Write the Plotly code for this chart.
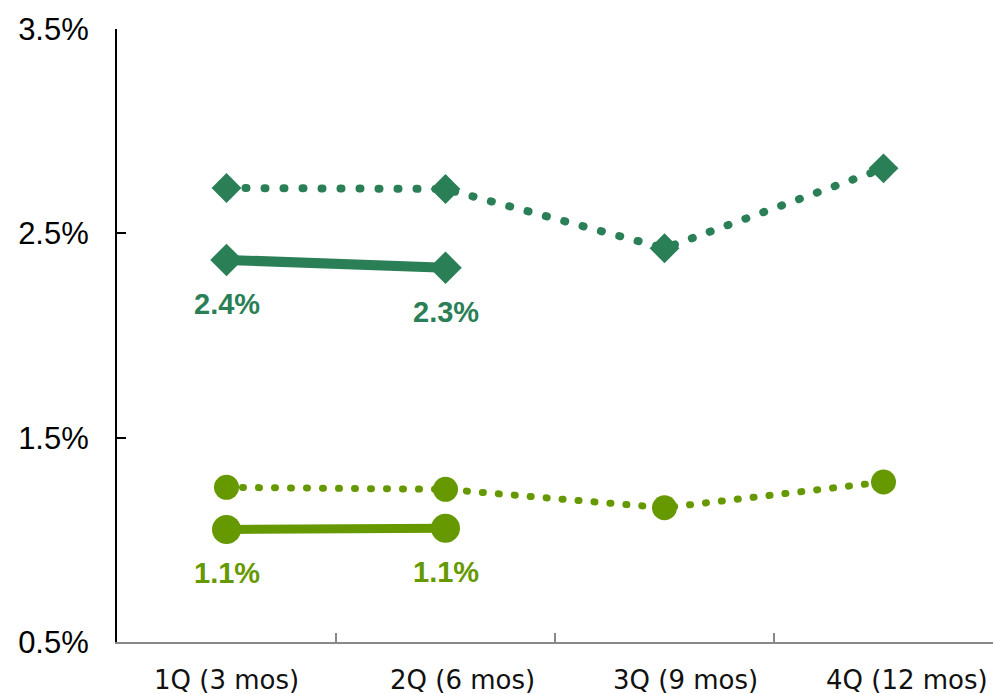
import plotly.graph_objects as go

# Quarter categories on the x axis
quarters = ["1Q (3 mos)", "2Q (6 mos)", "3Q (9 mos)", "4Q (12 mos)"]

# Dark green series (diamonds): full-year dotted line and year-to-date solid line
dark_dotted = [2.722, 2.717, 2.427, 2.818]
dark_solid = [2.37, 2.332]

# Light green series (circles): full-year dotted line and year-to-date solid line
light_dotted = [1.257, 1.247, 1.157, 1.283]
light_solid = [1.051, 1.057]

# Y axis ticks
y_ticks = [0.5, 1.5, 2.5, 3.5]
y_tick_text = ["0.5%", "1.5%", "2.5%", "3.5%"]

DARK = "#2B7F57"
LIGHT = "#669900"

fig = go.Figure()

fig.add_trace(go.Scatter(
    x=quarters, y=dark_dotted, mode="lines+markers",
    line=dict(color=DARK, width=8, dash="1px,18px"),
    marker=dict(symbol="diamond", size=23, color=DARK),
    showlegend=False, hoverinfo="skip",
))
fig.add_trace(go.Scatter(
    x=quarters[:2], y=dark_solid, mode="lines+markers",
    line=dict(color=DARK, width=10),
    marker=dict(symbol="diamond", size=25, color=DARK),
    showlegend=False, hoverinfo="skip",
))
fig.add_trace(go.Scatter(
    x=quarters, y=light_dotted, mode="lines+markers",
    line=dict(color=LIGHT, width=7, dash="1px,15px"),
    marker=dict(symbol="circle", size=25, color=LIGHT),
    showlegend=False, hoverinfo="skip",
))
fig.add_trace(go.Scatter(
    x=quarters[:2], y=light_solid, mode="lines+markers",
    line=dict(color=LIGHT, width=9),
    marker=dict(symbol="circle", size=29, color=LIGHT),
    showlegend=False, hoverinfo="skip",
))

# Value labels under the solid-line points
for vals, col in ((dark_solid, DARK), (light_solid, LIGHT)):
    for q, v in zip(quarters, vals):
        fig.add_annotation(
            x=q, y=v, text=f"{v:.1f}%", showarrow=False, yshift=-44,
            font=dict(family="Arial, Liberation Sans", size=29, color=col, weight="bold"),
        )

# Category labels under the x axis (later quarters sit slightly right of centre)
label_nudge = [0, 17, 21, 23]
for q, dx in zip(quarters, label_nudge):
    fig.add_annotation(
        x=q, xref="x", y=0, yref="paper", yanchor="middle",
        yshift=-38, xshift=dx, text=q, showarrow=False,
        font=dict(family="Verdana, DejaVu Sans", size=26, color="#111111"),
    )

fig.update_layout(
    width=995, height=694,
    margin=dict(l=117, r=2, t=29, b=52),
    paper_bgcolor="white", plot_bgcolor="white",
    xaxis=dict(
        type="category", range=[-0.5, 3.5], automargin=False,
        showline=True, linecolor="#888888", linewidth=2,
        ticks="inside", tickson="boundaries", ticklen=9, tickwidth=2, tickcolor="#888888",
        showgrid=False, zeroline=False, showticklabels=False,
    ),
    yaxis=dict(
        range=[0.5, 3.5], tickvals=y_ticks, ticktext=y_tick_text, automargin=False,
        showline=True, linecolor="black", linewidth=2,
        ticks="inside", ticklen=9, tickwidth=2, tickcolor="black",
        showgrid=False, zeroline=False,
        tickfont=dict(family="Arial, Liberation Sans", size=31, color="black"),
        ticklabelstandoff=20,
    ),
)

# Round line caps so the dotted dash pattern draws as round dots
post = """
var gd = document.getElementById('{plot_id}');
function roundCaps() {
  gd.querySelectorAll('.scatterlayer .js-line').forEach(function (p) {
    p.style.strokeLinecap = 'round';
  });
}
roundCaps();
gd.on('plotly_afterplot', roundCaps);
"""

fig.write_html("out.html", post_script=post)
